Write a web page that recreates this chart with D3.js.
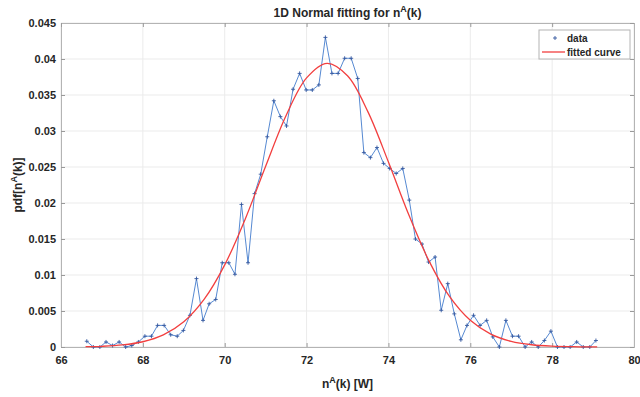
<!DOCTYPE html>
<html>
<head>
<meta charset="utf-8">
<script src="https://cdn.jsdelivr.net/npm/d3@7"></script>
<style>
  body { margin: 0; background: #fff; }
  text { font-family: "Liberation Sans", Arial, sans-serif; fill: #262626; }
</style>
</head>
<body>
<svg id="chart"></svg>
<script>
// histogram bin centres [W]
var binCenters = [66.63, 66.79, 66.95, 67.10, 67.26, 67.42, 67.58, 67.73, 67.89, 68.05,
  68.21, 68.36, 68.52, 68.68, 68.84, 68.99, 69.15, 69.31, 69.47, 69.62,
  69.78, 69.94, 70.10, 70.25, 70.41, 70.57, 70.73, 70.88, 71.04, 71.20,
  71.36, 71.51, 71.67, 71.83, 71.99, 72.14, 72.30, 72.46, 72.62, 72.77,
  72.93, 73.09, 73.25, 73.40, 73.56, 73.72, 73.88, 74.03, 74.19, 74.35,
  74.51, 74.66, 74.82, 74.98, 75.14, 75.29, 75.45, 75.61, 75.77, 75.92,
  76.08, 76.24, 76.40, 76.55, 76.71, 76.87, 77.03, 77.18, 77.34, 77.50,
  77.66, 77.81, 77.97, 78.13, 78.29, 78.44, 78.60, 78.76, 78.92, 79.07];

// empirical pdf at each bin
var pdfValues = [0.0008, 0.0000, 0.0000, 0.0007, 0.0002, 0.0007, 0.0000, 0.0002, 0.0007, 0.0015,
  0.0015, 0.0030, 0.0030, 0.0017, 0.0015, 0.0023, 0.0044, 0.0095, 0.0037, 0.0060,
  0.0066, 0.0117, 0.0117, 0.0101, 0.0198, 0.0117, 0.0213, 0.0240, 0.0292, 0.0342,
  0.0320, 0.0307, 0.0358, 0.0380, 0.0357, 0.0357, 0.0364, 0.0430, 0.0380, 0.0380,
  0.0401, 0.0401, 0.0373, 0.0270, 0.0263, 0.0277, 0.0255, 0.0248, 0.0241, 0.0248,
  0.0204, 0.0150, 0.0143, 0.0118, 0.0125, 0.0051, 0.0088, 0.0046, 0.0010, 0.0030,
  0.0044, 0.0030, 0.0037, 0.0014, 0.0000, 0.0037, 0.0015, 0.0015, 0.0000, 0.0007,
  0.0000, 0.0009, 0.0022, 0.0000, 0.0000, 0.0000, 0.0007, 0.0000, 0.0000, 0.0009];

// fitted normal curve, read at sample points
var fitX = [66.6, 67.0, 67.5, 68.0, 68.5, 69.0, 69.5, 70.0, 70.5, 71.0, 71.5, 72.0, 72.5,
  73.0, 73.5, 74.0, 74.5, 75.0, 75.5, 76.0, 76.5, 77.0, 77.5, 78.0, 78.5, 79.0, 79.1];
var fitY = [0.00004, 0.0001, 0.00029, 0.00073, 0.00168, 0.0035, 0.00664, 0.0114, 0.01776, 0.0251,
  0.03215, 0.03737, 0.0394, 0.03767, 0.03266, 0.02569, 0.01832, 0.01186, 0.00695, 0.0037,
  0.00179, 0.00078, 0.00031, 0.00011, 0.00004, 0.00001, 0.00001];

var xTicks = [66, 68, 70, 72, 74, 76, 78, 80];
var yTicks = [0, 0.005, 0.01, 0.015, 0.02, 0.025, 0.03, 0.035, 0.04, 0.045];
var yTickLabels = ["0", "0.005", "0.01", "0.015", "0.02", "0.025", "0.03", "0.035", "0.04", "0.045"];

var margin = { top: 23, right: 6, bottom: 50, left: 61 },
  width = 640 - margin.left - margin.right,
  height = 397 - margin.top - margin.bottom;

var svg = d3.select("#chart")
  .attr("width", 640)
  .attr("height", 397);

var g = svg.append("g")
  .attr("transform", "translate(" + margin.left + "," + margin.top + ")");

var x = d3.scaleLinear().domain([66, 80]).range([0, width]);
var y = d3.scaleLinear().domain([0, 0.045]).range([height, 0]);

// grid
g.append("g").selectAll("line")
  .data(xTicks)
  .enter().append("line")
  .attr("x1", function (d) { return x(d); })
  .attr("x2", function (d) { return x(d); })
  .attr("y1", 0).attr("y2", height)
  .attr("stroke", "#ebebeb");
g.append("g").selectAll("line")
  .data(yTicks)
  .enter().append("line")
  .attr("x1", 0).attr("x2", width)
  .attr("y1", function (d) { return y(d); })
  .attr("y2", function (d) { return y(d); })
  .attr("stroke", "#ebebeb");

// axes (inward ticks, MATLAB style)
g.append("g")
  .attr("transform", "translate(0," + height + ")")
  .call(d3.axisBottom(x).tickValues(xTicks).tickSize(-4).tickPadding(9));
g.append("g")
  .call(d3.axisLeft(y).tickValues(yTicks).tickSize(-4).tickPadding(5)
    .tickFormat(function (d, i) { return yTickLabels[i]; }));
g.append("g")
  .call(d3.axisTop(x).tickValues(xTicks).tickSize(-4).tickFormat(""));
g.append("g")
  .attr("transform", "translate(" + width + ",0)")
  .call(d3.axisRight(y).tickValues(yTicks).tickSize(-4).tickFormat(""));

g.selectAll(".domain").attr("stroke", "#b4b4b4");
g.selectAll(".tick line").attr("stroke", "#9a9a9a");
g.selectAll(".tick text")
  .style("font-family", "'Liberation Sans', Arial, sans-serif")
  .style("font-size", "11px")
  .style("font-weight", "bold")
  .attr("fill", "#333");

// data line + markers
var dataLine = d3.line()
  .x(function (d, i) { return x(binCenters[i]); })
  .y(function (d) { return y(d); });

g.append("path")
  .datum(pdfValues)
  .attr("fill", "none")
  .attr("stroke", "#5689d2")
  .attr("stroke-width", 1)
  .attr("d", dataLine);

g.append("g").selectAll("path")
  .data(pdfValues)
  .enter().append("path")
  .attr("transform", function (d, i) { return "translate(" + x(binCenters[i]) + "," + y(d) + ")"; })
  .attr("d", "M-2,0H2M0,-2V2")
  .attr("stroke", "#34589f")
  .attr("stroke-width", 0.9);

// fitted curve
var fitLine = d3.line()
  .curve(d3.curveCatmullRom)
  .x(function (d, i) { return x(fitX[i]); })
  .y(function (d) { return y(d); });

g.append("path")
  .datum(fitY)
  .attr("fill", "none")
  .attr("stroke", "#f23f3f")
  .attr("stroke-width", 1.3)
  .attr("d", fitLine);

// title
var title = svg.append("text")
  .attr("x", margin.left + width / 2)
  .attr("y", 17)
  .attr("text-anchor", "middle")
  .style("font-size", "12px")
  .style("font-weight", "bold");
title.append("tspan").text("1D Normal fitting for n");
title.append("tspan").attr("dy", -5).style("font-size", "9px").text("A");
title.append("tspan").attr("dy", 5).text("(k)");

// x label
var xLabel = svg.append("text")
  .attr("x", margin.left + width / 2)
  .attr("y", 388)
  .attr("text-anchor", "middle")
  .style("font-size", "12px")
  .style("font-weight", "bold");
xLabel.append("tspan").text("n");
xLabel.append("tspan").attr("dy", -5).style("font-size", "9px").text("A");
xLabel.append("tspan").attr("dy", 5).text("(k) [W]");

// y label
var yLabel = svg.append("text")
  .attr("transform", "translate(22," + (margin.top + height / 2) + ") rotate(-90)")
  .attr("text-anchor", "middle")
  .style("font-size", "12px")
  .style("font-weight", "bold");
yLabel.append("tspan").text("pdf[n");
yLabel.append("tspan").attr("dy", -5).style("font-size", "9px").text("A");
yLabel.append("tspan").attr("dy", 5).text("(k)]");

// legend
var legend = svg.append("g").attr("transform", "translate(539,30)");
legend.append("rect")
  .attr("width", 91).attr("height", 29)
  .attr("fill", "#fff")
  .attr("stroke", "#b4b4b4");
legend.append("path")
  .attr("d", "M14,8H18M16,6V10")
  .attr("stroke", "#34589f")
  .attr("stroke-width", 0.9);
legend.append("text")
  .attr("x", 28).attr("y", 12)
  .style("font-size", "10px").style("font-weight", "bold")
  .text("data");
legend.append("line")
  .attr("x1", 3).attr("x2", 26).attr("y1", 22).attr("y2", 22)
  .attr("stroke", "#f23f3f").attr("stroke-width", 1.3);
legend.append("text")
  .attr("x", 28).attr("y", 26)
  .style("font-size", "10px").style("font-weight", "bold")
  .text("fitted curve");
</script>
</body>
</html>
